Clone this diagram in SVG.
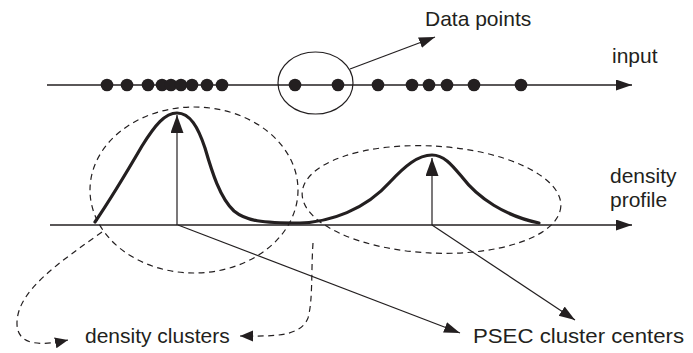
<svg xmlns="http://www.w3.org/2000/svg" width="693" height="353" viewBox="0 0 693 353">
<style>
text{font-family:"Liberation Sans",Arial,sans-serif;font-size:21px;fill:#231f20}
.ax{stroke:#231f20;stroke-width:1.4;fill:none}
.thin{stroke:#231f20;stroke-width:1.2;fill:none}
.dash{stroke:#231f20;stroke-width:1.2;fill:none;stroke-dasharray:6 4.5}
.curve{stroke:#231f20;stroke-width:3.2;fill:none;stroke-linejoin:round;stroke-linecap:round}
.dot{fill:#231f20}
</style>
<defs>
<marker id="ah" markerUnits="userSpaceOnUse" markerWidth="17" markerHeight="12" refX="16" refY="5.5" orient="auto"><path d="M0,0 L16,5.5 L0,11 z" fill="#231f20"/></marker>
<marker id="ahv" markerUnits="userSpaceOnUse" markerWidth="19" markerHeight="14" refX="18" refY="6.5" orient="auto"><path d="M0,0 L18,6.5 L0,13 z" fill="#231f20"/></marker>
<marker id="ahs" markerUnits="userSpaceOnUse" markerWidth="14" markerHeight="12" refX="13" refY="5.5" orient="auto"><path d="M0,0 L13,5.5 L0,11 z" fill="#231f20"/></marker>
</defs>
<g id="input-axis">
<line class="ax" x1="47" y1="85" x2="632" y2="85" marker-end="url(#ah)"/>
<text x="612" y="63">input</text>
</g>
<g id="data-points">
<circle class="dot" cx="107" cy="85" r="6.3"/>
<circle class="dot" cx="127" cy="85" r="6.3"/>
<circle class="dot" cx="148" cy="85" r="6.3"/>
<circle class="dot" cx="162" cy="85" r="6.3"/>
<circle class="dot" cx="171" cy="85" r="6.3"/>
<circle class="dot" cx="181" cy="85" r="6.3"/>
<circle class="dot" cx="192" cy="85" r="6.3"/>
<circle class="dot" cx="207" cy="85" r="6.3"/>
<circle class="dot" cx="222" cy="85" r="6.3"/>
<circle class="dot" cx="295" cy="85" r="6.3"/>
<circle class="dot" cx="338" cy="85" r="6.3"/>
<circle class="dot" cx="378" cy="85" r="6.3"/>
<circle class="dot" cx="412" cy="85" r="6.3"/>
<circle class="dot" cx="429" cy="85" r="6.3"/>
<circle class="dot" cx="447" cy="85" r="6.3"/>
<circle class="dot" cx="474" cy="85" r="6.3"/>
<circle class="dot" cx="521" cy="85" r="6.3"/>
<ellipse class="thin" cx="315.5" cy="83" rx="37.5" ry="31"/>
</g>
<g id="data-points-label">
<text x="425" y="26">Data points</text>
</g>
<g id="density-axis">
<line class="ax" x1="50" y1="225" x2="632" y2="225" marker-end="url(#ah)"/>
<text x="610" y="183">density</text>
<text x="610" y="207">profile</text>
</g>
<g id="density-profile">
<path class="curve" d="M95,222 C110,200 128,170 142,146 C155,125 165,113 177,113 C190,113 198,127 205,148 C212,172 220,198 234,211 C246,221 262,223 300,223 C330,222 365,210 390,182 C405,166 418,155 432,155 C444,155 452,165 462,177 C478,198 505,216 539,223"/>
</g>
<g id="cluster-1">
<ellipse class="dash" cx="194" cy="190" rx="104" ry="83"/>
</g>
<g id="cluster-2">
<ellipse class="dash" cx="431.5" cy="199.5" rx="129.5" ry="53.5" transform="rotate(3 431.5 199.5)"/>
</g>
<g id="density-clusters-label">
<text x="85" y="343">density clusters</text>
</g>
<g id="psec-label">
<text x="473" y="343" textLength="211" lengthAdjust="spacingAndGlyphs">PSEC cluster centers</text>
</g>
<g id="connectors">
<line class="thin" x1="350" y1="69" x2="435" y2="37" marker-end="url(#ah)"/>
<line class="thin" x1="177" y1="225" x2="177" y2="115" marker-end="url(#ahv)"/>
<line class="thin" x1="432" y1="225" x2="432" y2="158" marker-end="url(#ahv)"/>
<line class="thin" x1="178" y1="225" x2="460" y2="333" marker-end="url(#ah)"/>
<line class="thin" x1="432" y1="225" x2="575" y2="320" marker-end="url(#ah)"/>
<path class="dash" d="M102,232 C60,262 18,290 17,322 C16,348 45,345 68,340" marker-end="url(#ahs)"/>
<path class="dash" d="M313,243 C311,272 313,300 308,318 C300,338 270,336 240,336" marker-end="url(#ahs)"/>
</g>
</svg>
